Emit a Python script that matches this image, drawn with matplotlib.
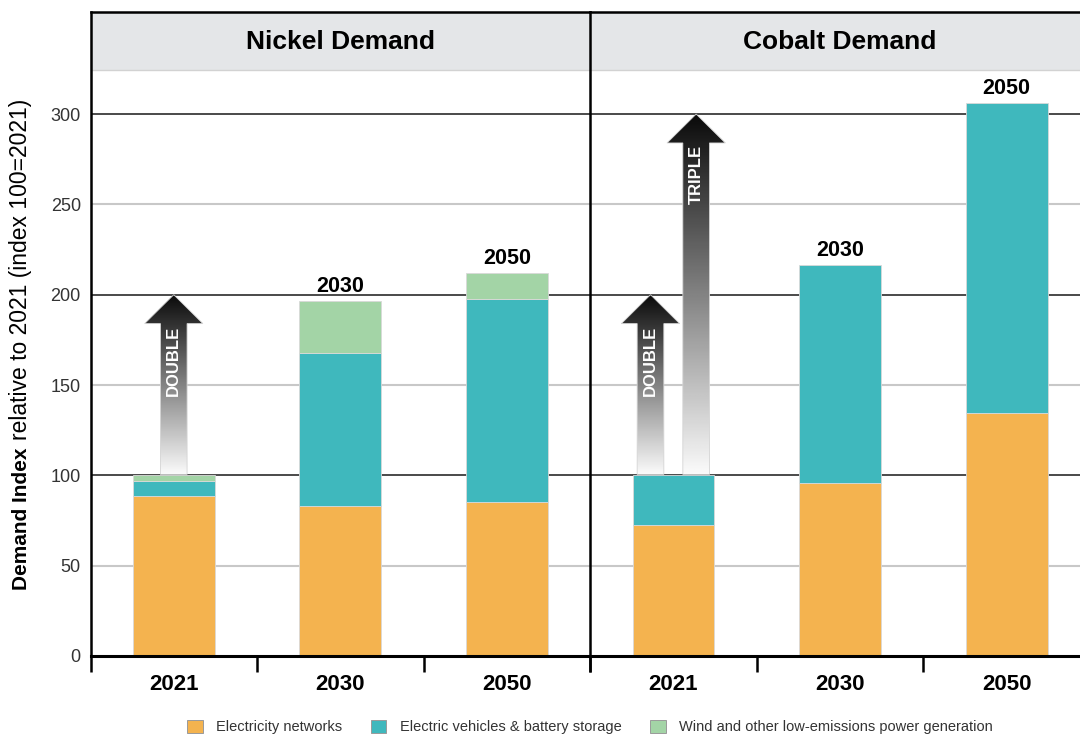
import matplotlib.pyplot as plt
import numpy as np
from matplotlib.patches import Polygon, Patch

plt.rcParams['font.family'] = ['Liberation Sans', 'DejaVu Sans']

YEARS = ["2021", "2030", "2050"]
SERIES = ["Electricity networks", "Electric vehicles & battery storage",
          "Wind and other low-emissions power generation"]
COLORS = ["#f4b34f", "#3fb8bd", "#a3d4a6"]

# demand index, stacked pieces per year
nickel_networks = [88.6, 82.8, 85.2]
nickel_ev = [8.3, 85.1, 112.4]
nickel_wind = [3.3, 28.8, 14.4]
cobalt_networks = [72.5, 95.6, 134.5]
cobalt_ev = [27.5, 120.8, 171.4]
cobalt_wind = [0, 0, 0]

# which bars get a year label on top
nickel_toplabels = [False, True, True]
cobalt_toplabels = [False, True, True]

# growth arrows: (x offset from 2021 bar, start, end, text)
nickel_arrows = [(0.0, 100.5, 200, "DOUBLE")]
cobalt_arrows = [(-0.137, 100.5, 200, "DOUBLE"), (0.137, 100.5, 300, "TRIPLE")]

W, H = 1080, 736
YTOP = 356.5


def draw_arrow(ax, cx, y0, y1, label):
    sw, hw, hh = 0.16, 0.35, 16
    yb = y1 - hh
    verts = [(cx - sw/2, y0), (cx + sw/2, y0), (cx + sw/2, yb), (cx + hw/2, yb),
             (cx, y1), (cx - hw/2, yb), (cx - sw/2, yb)]
    poly = Polygon(verts, closed=True, facecolor='none', edgecolor='#d4d4d4', lw=0.6, zorder=3)
    ax.add_patch(poly)
    grad = np.linspace(0.98, 0.04, 256).reshape(-1, 1)
    im = ax.imshow(grad, cmap='gray', vmin=0, vmax=1, aspect='auto', origin='lower',
                   extent=(cx - hw/2, cx + hw/2, y0, y1), zorder=2.5, interpolation='bilinear')
    im.set_clip_path(poly)
    ax.text(cx, yb - 1, label, rotation=90, ha='center', va='top', color='white',
            fontsize=12, fontweight='bold', zorder=4)


def draw_panel(ax, title, stacks, toplabels, arrows):
    x = np.arange(len(YEARS))
    # grid
    for v in [50, 150, 250]:
        ax.axhline(v, color='#c8c8c8', lw=1.5, zorder=0.5)
    for v in [100, 200, 300]:
        ax.axhline(v, color='#3c3c3c', lw=1.3, zorder=0.6)
    # header band
    ax.axhspan(324.4, YTOP, color='#e4e6e8', zorder=0.4, lw=0)
    ax.axhline(324.4, color='#d2d2d2', lw=1, zorder=0.45)
    ax.text(1, 340, title, ha='center', va='center', fontsize=19, fontweight='bold', zorder=5)

    bottom = np.zeros(len(YEARS))
    for vals, c in zip(stacks, COLORS):
        vals = np.array(vals, dtype=float)
        if vals.sum() == 0:
            continue
        ax.bar(x, vals, width=0.49, bottom=bottom, color=c, edgecolor='#d9d9d9', lw=0.6, zorder=2)
        bottom += vals
    for i, show in enumerate(toplabels):
        if show:
            ax.annotate(YEARS[i], (x[i], bottom[i]), xytext=(0, 3), textcoords='offset points',
                        ha='center', va='bottom', fontsize=15.5, fontweight='bold', zorder=5)

    for dx, y0, y1, lab in arrows:
        draw_arrow(ax, x[0] + dx, y0, y1, lab)

    ax.set_xlim(-0.5, 2.5)
    ax.set_ylim(0, YTOP)
    ax.spines['right'].set_visible(False)
    ax.spines['top'].set_linewidth(1.8)
    ax.spines['left'].set_linewidth(1.8)
    ax.spines['bottom'].set_linewidth(2.2)
    ax.set_xticks([-0.5, 0.5, 1.5, 2.5])
    ax.set_xticklabels([])
    ax.tick_params(axis='x', which='major', direction='out', length=11.5, width=1.8, color='black')
    ax.set_xticks(x, minor=True)
    ax.set_xticklabels(YEARS, minor=True, fontsize=16, fontweight='bold')
    ax.tick_params(axis='x', which='minor', length=0, pad=13)


fig = plt.figure(figsize=(W / 100, H / 100), dpi=100)
bot = 1 - 656 / H
hgt = (656 - 12) / H
ax1 = fig.add_axes([90.5 / W, bot, 499.5 / W, hgt])
ax2 = fig.add_axes([590 / W, bot, 500 / W, hgt])

draw_panel(ax1, "Nickel Demand", [nickel_networks, nickel_ev, nickel_wind], nickel_toplabels, nickel_arrows)
draw_panel(ax2, "Cobalt Demand", [cobalt_networks, cobalt_ev, cobalt_wind], cobalt_toplabels, cobalt_arrows)

ax1.set_yticks(range(0, 301, 50))
ax1.tick_params(axis='y', length=0, pad=7, labelsize=13, labelcolor='#333333')
ax2.set_yticks([])

# y label, bold part then regular part on the same baseline
renderer = fig.canvas.get_renderer()
t1 = fig.text(27 / W, 1 - 590 / H, "Demand Index", rotation=90, rotation_mode='anchor',
              ha='left', va='baseline', fontsize=15, fontweight='bold')
ext = t1.get_window_extent(renderer)
fig.text(27 / W, 1 - (590 - ext.height - 7) / H, "relative to 2021 (index 100=2021)", rotation=90,
         rotation_mode='anchor', ha='left', va='baseline', fontsize=16.5)

handles = [Patch(facecolor=c, edgecolor='#9a9a9a', lw=0.7) for c in COLORS]
fig.legend(handles, SERIES, loc='center', bbox_to_anchor=(590 / W, 1 - 727 / H), ncol=3,
           frameon=False, fontsize=10.5, handlelength=1.05, handleheight=1.05,
           handletextpad=0.9, columnspacing=2.0, labelcolor='#333333')

fig.savefig('out.png', dpi=100)
